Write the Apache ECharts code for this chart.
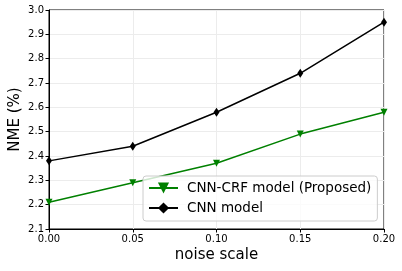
<!DOCTYPE html>
<html><head><meta charset="utf-8">
<script src="https://cdn.jsdelivr.net/npm/echarts@6/dist/echarts.min.js"></script>
<style>html,body{margin:0;padding:0;background:#fff}#c{width:402px;height:271px}</style>
</head><body><div id="c"></div>
<script>
var noiseScale = [0.00, 0.05, 0.10, 0.15, 0.20];
var cnnCrf = [2.21, 2.29, 2.37, 2.49, 2.58];
var cnn = [2.38, 2.44, 2.58, 2.74, 2.95];
var seriesNames = ['CNN-CRF model (Proposed)', 'CNN model'];

var chart = echarts.init(document.getElementById('c'), null, {renderer: 'canvas'});
var font = 'DejaVu Sans';
function pairs(xs, ys){ return xs.map(function(x,i){ return [x, ys[i]]; }); }
chart.setOption({
  animation: false,
  textStyle: {fontFamily: font},
  grid: {left: 49, right: 18, top: 10, bottom: 42, show: true, borderColor: '#000', borderWidth: 1, containLabel: false, outerBoundsMode: 'none'},
  xAxis: {
    type: 'value', min: 0, max: 0.2, interval: 0.05,
    name: 'noise scale', nameLocation: 'middle', nameGap: 19, nameMoveOverlap: false,
    nameTextStyle: {fontSize: 15, color: '#000', fontFamily: font},
    axisLine: {show: true, lineStyle: {color: '#000', width: 1}},
    axisTick: {show: true, length: 3.5, lineStyle: {color: '#000'}},
    axisLabel: {fontSize: 10, color: '#000', margin: 5, fontFamily: font, formatter: function(v){ return v.toFixed(2); }},
    splitLine: {show: true, lineStyle: {color: '#ececec', width: 1}}
  },
  yAxis: {
    type: 'value', min: 2.1, max: 3.0, interval: 0.1,
    name: 'NME (%)', nameLocation: 'middle', nameGap: 26, nameMoveOverlap: false,
    nameTextStyle: {fontSize: 15, color: '#000', fontFamily: font},
    axisLine: {show: true, lineStyle: {color: '#000', width: 1}},
    axisTick: {show: true, length: 3.5, lineStyle: {color: '#000'}},
    axisLabel: {fontSize: 10, color: '#000', margin: 5, fontFamily: font, formatter: function(v){ return v.toFixed(1); }},
    splitLine: {show: true, lineStyle: {color: '#ececec', width: 1}}
  },
  legend: {
    left: 143, top: 176, orient: 'vertical',
    padding: [5, 6, 6, 5],
    itemWidth: 29, itemHeight: 14, itemGap: 6,
    backgroundColor: 'rgba(255,255,255,0.8)', borderColor: '#cccccc', borderWidth: 1, borderRadius: 3,
    textStyle: {fontSize: 13.5, color: '#000', fontFamily: font, padding: [0,0,0,4]},
    data: seriesNames
  },
  series: [
    {name: seriesNames[0], type: 'line', data: pairs(noiseScale, cnnCrf),
     color: '#008000', lineStyle: {width: 1.5, color: '#008000'},
     symbol: 'triangle', symbolRotate: 180, symbolSize: 7, itemStyle: {color: '#008000'}, z: 3},
    {name: seriesNames[1], type: 'line', data: pairs(noiseScale, cnn),
     color: '#000', lineStyle: {width: 1.5, color: '#000'},
     symbol: 'diamond', symbolSize: [6, 9], itemStyle: {color: '#000'}, z: 2}
  ]
});
</script></body></html>
